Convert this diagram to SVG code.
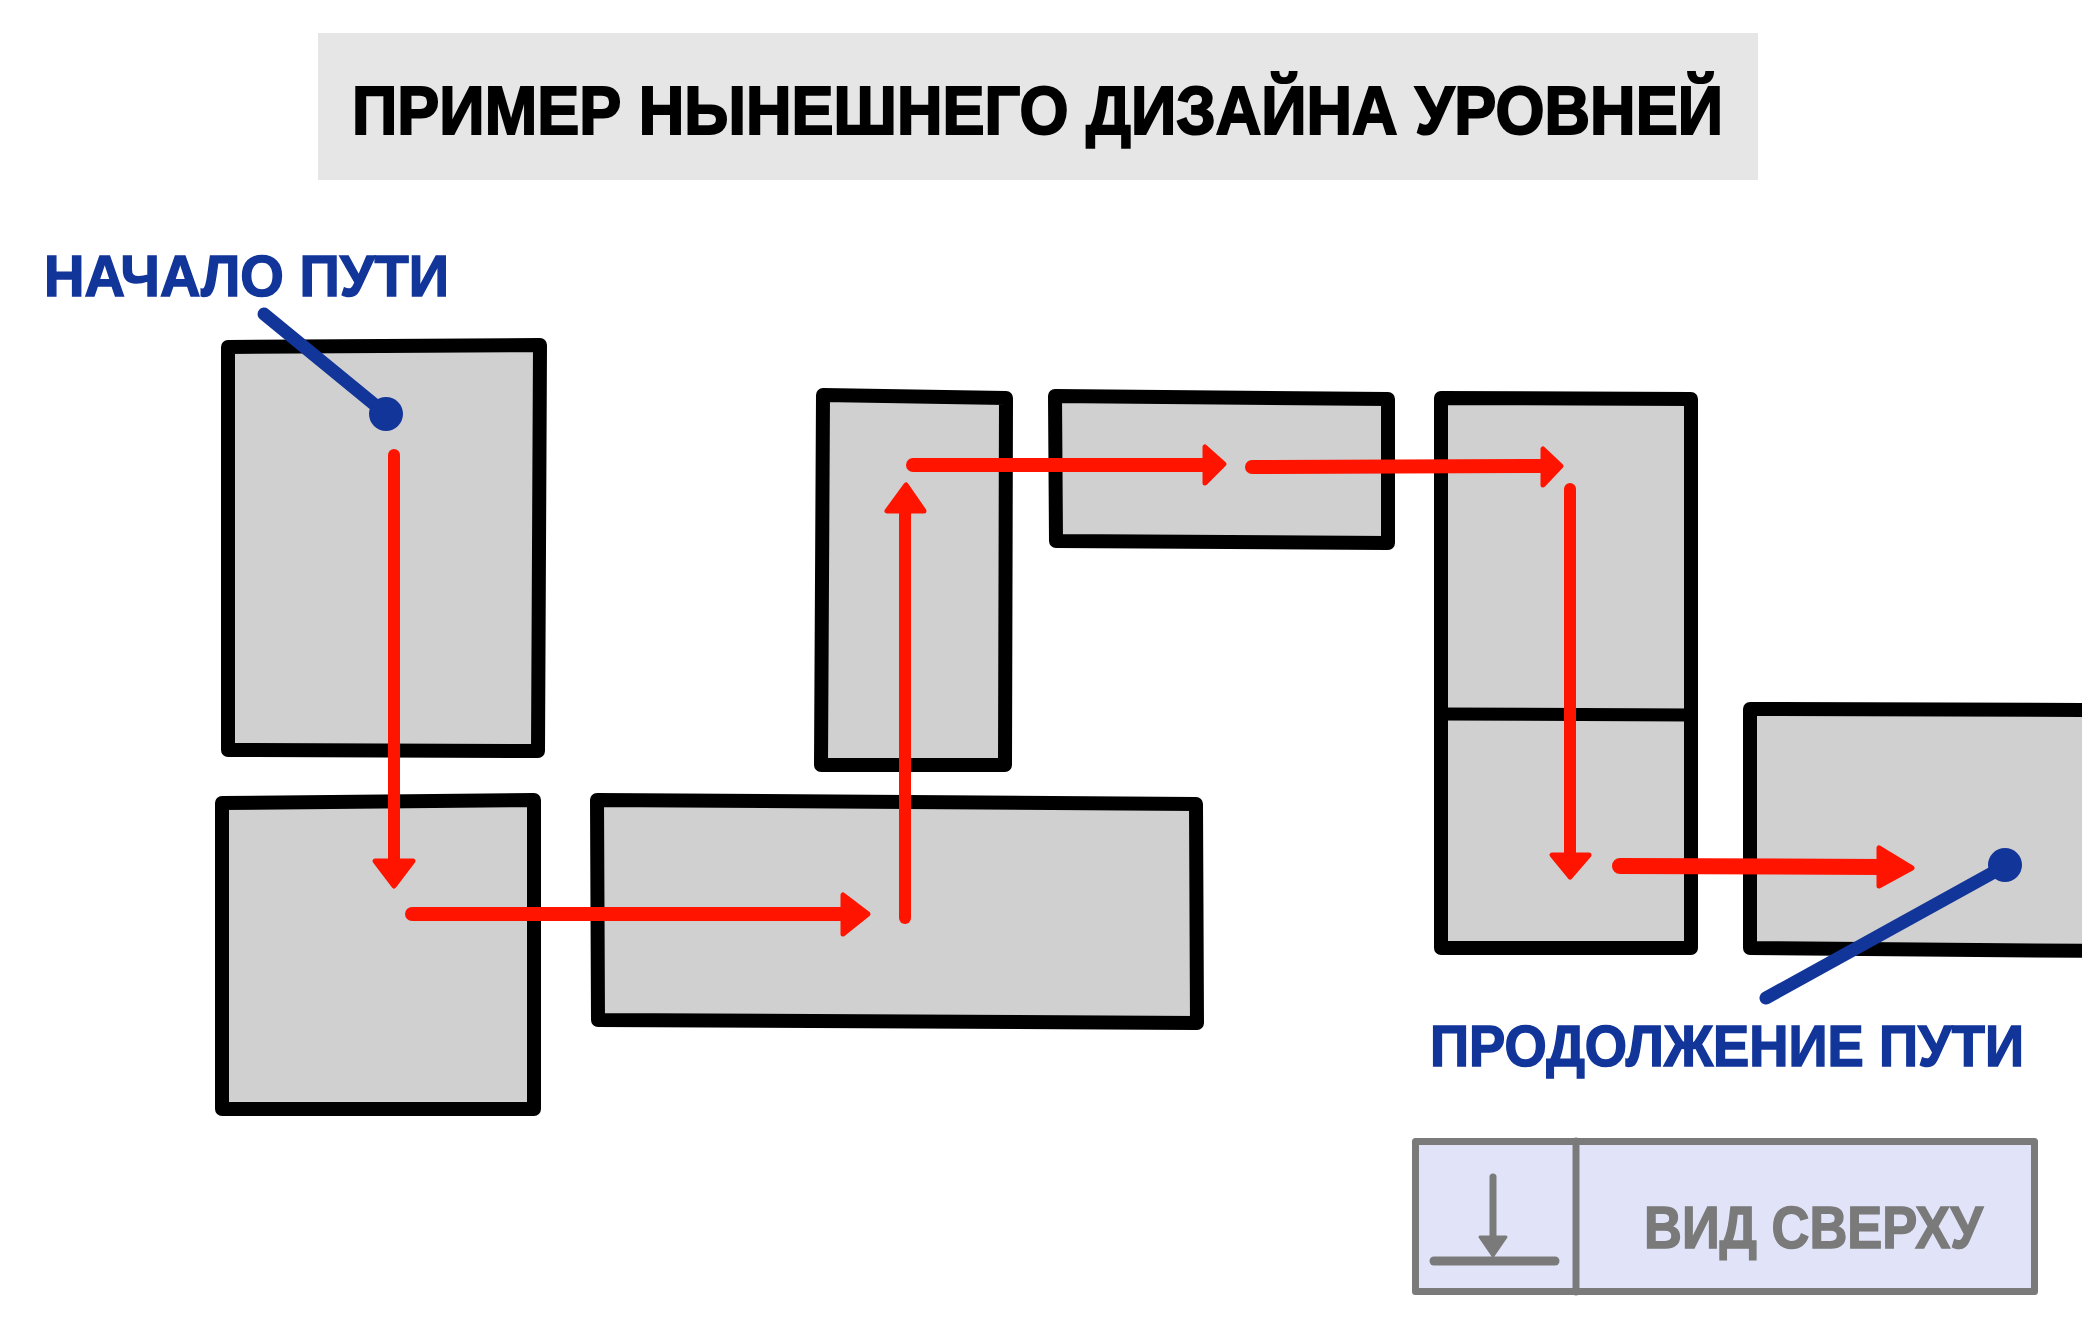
<svg xmlns="http://www.w3.org/2000/svg" width="2082" height="1320" viewBox="0 0 2082 1320">
<style>
.room{fill:#d0d0d0;stroke:#000;stroke-width:14;stroke-linejoin:round;stroke-linecap:round}
.wall{fill:none;stroke:#000;stroke-width:13;stroke-linecap:round}
.path{stroke:#ff1400;stroke-linecap:round;fill:none}
.v{stroke-width:12}
.h{stroke-width:14}
.head{fill:#ff1400;stroke:#ff1400;stroke-width:5;stroke-linejoin:round}
.ptr{stroke:#12359a;stroke-width:13;stroke-linecap:round;fill:none}
.dot{fill:#12359a}
.lbl{font-family:"Liberation Sans",Arial,sans-serif;font-weight:bold;fill:#12359a;stroke:#12359a;stroke-width:1.5;font-size:58px}
.title{font-family:"Liberation Sans",Arial,sans-serif;font-weight:bold;fill:#000;stroke:#000;stroke-width:2;font-size:68px}
.leg{fill:#e1e4f8;stroke:#7a7a7a;stroke-width:7;stroke-linejoin:round}
.legline{stroke:#7a7a7a;fill:none;stroke-linecap:round}
.legtext{font-family:"Liberation Sans",Arial,sans-serif;font-weight:bold;fill:#7a7a7a;stroke:#7a7a7a;stroke-width:1.5;font-size:60px}
</style>
<rect width="2082" height="1320" fill="#fff"/>

<g id="title">
<rect x="318" y="33" width="1440" height="147" fill="#e6e6e6"/>
<text class="title" x="352" y="134" textLength="1371" lengthAdjust="spacingAndGlyphs">ПРИМЕР НЫНЕШНЕГО ДИЗАЙНА УРОВНЕЙ</text>
</g>

<g id="room1"><path class="room" d="M228,347 L540,345 L538,751 L228,750 Z"/></g>
<g id="room2"><path class="room" d="M222,803 L534,800 L534,1109 L222,1109 Z"/></g>
<g id="room3"><path class="room" d="M597,800 L1196,804 L1197,1023 L598,1020 Z"/></g>
<g id="room4"><path class="room" d="M823,395 L1006,398 L1005,765 L821,765 Z"/></g>
<g id="room5"><path class="room" d="M1055,396 L1388,399 L1388,543 L1056,541 Z"/></g>
<g id="room6"><path class="room" d="M1441,398 L1691,399 L1691,948 L1441,948 Z"/><line class="wall" x1="1441" y1="714" x2="1691" y2="715"/></g>
<g id="room7"><path class="room" d="M1750,709 L2100,710 L2100,951 L1750,948 Z"/></g>

<g id="connectors">
<line class="path v" x1="394" y1="455" x2="394" y2="864"/>
<polygon class="head" points="375,861 413,861 394,886"/>
<line class="path h" x1="412" y1="914" x2="846" y2="914"/>
<polygon class="head" points="843,895 843,934 868,914"/>
<line class="path v" x1="905" y1="918" x2="905" y2="508"/>
<polygon class="head" points="887,511 924,511 906,485"/>
<line class="path h" x1="913" y1="465" x2="1208" y2="465"/>
<polygon class="head" points="1205,447 1205,483 1224,464"/>
<line class="path h" x1="1252" y1="467" x2="1546" y2="466"/>
<polygon class="head" points="1543,449 1543,485 1561,466"/>
<line class="path v" x1="1570" y1="489" x2="1570" y2="856"/>
<polygon class="head" points="1552,855 1589,855 1570,877"/>
<line class="path" stroke-width="16" x1="1620" y1="866" x2="1882" y2="867"/>
<polygon class="head" points="1879,848 1879,886 1912,868"/>

<line class="ptr" x1="264" y1="314" x2="386" y2="414"/>
<circle class="dot" cx="386" cy="414" r="17"/>
<line class="ptr" x1="1766" y1="998" x2="2005" y2="866"/>
<circle class="dot" cx="2005" cy="865" r="17"/>
</g>

<g id="label-start">
<text class="lbl" x="44" y="296" textLength="405" lengthAdjust="spacingAndGlyphs">НАЧАЛО ПУТИ</text>
</g>
<g id="label-continue">
<text class="lbl" x="1430" y="1066" textLength="594" lengthAdjust="spacingAndGlyphs">ПРОДОЛЖЕНИЕ ПУТИ</text>
</g>

<g id="legend">
<rect class="leg" x="1415.5" y="1141.5" width="619" height="150"/>
<line class="legline" stroke-width="7" x1="1576" y1="1141" x2="1576" y2="1292"/>
<line class="legline" stroke-width="7" x1="1493" y1="1177" x2="1493" y2="1240"/>
<polygon points="1480,1237 1506,1237 1493,1256" fill="#7a7a7a" stroke="#7a7a7a" stroke-width="3" stroke-linejoin="round"/>
<line class="legline" stroke-width="9" x1="1434" y1="1261" x2="1555" y2="1261"/>
<text class="legtext" x="1644" y="1248" textLength="339" lengthAdjust="spacingAndGlyphs">ВИД СВЕРХУ</text>
</g>
</svg>
